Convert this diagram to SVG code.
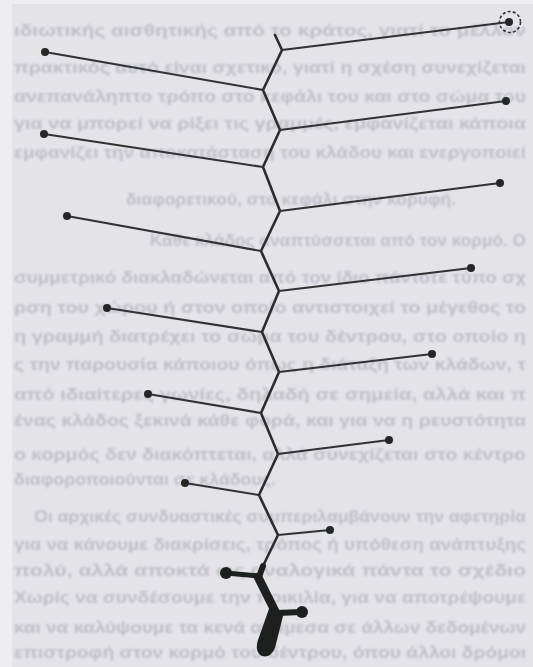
<svg xmlns="http://www.w3.org/2000/svg" width="533" height="667" viewBox="0 0 533 667">
  <defs>
    <filter id="soft" x="-5%" y="-50%" width="110%" height="200%">
      <feGaussianBlur stdDeviation="1"/>
    </filter>
  </defs>
  <style>
    .page { fill: #e3e3e8; }
    .margin { fill: #eeeef1; }
    .bg-text { font-family: "Liberation Sans", "DejaVu Sans", sans-serif; font-size: 16px; font-weight: bold; fill: #c0bfc7; }
    .spine { fill: none; stroke: #2a2e2d; stroke-width: 2.6; stroke-linecap: round; stroke-linejoin: round; }
    .branch { fill: none; stroke: #2f3332; stroke-width: 2.1; stroke-linecap: round; }
    .thick { fill: none; stroke: #1c211f; stroke-linecap: round; stroke-linejoin: round; }
    .tip { fill: #232726; }
    .blob { fill: #1c211f; }
    .ring { fill: none; stroke: #333; stroke-width: 1.6; stroke-dasharray: 3 2.2; }
  </style>

  <!-- paper -->
  <rect class="page" x="0" y="0" width="533" height="667"/>
  <rect class="margin" x="0" y="0" width="12" height="667"/>
  <rect class="margin" x="0" y="0" width="533" height="4"/>

  <!-- printed page text showing through behind the drawing -->
  <g id="page-text" filter="url(#soft)">
    <text class="bg-text" x="14" y="36" textLength="512" lengthAdjust="spacingAndGlyphs">ιδιωτικής αισθητικής από το κράτος, γιατί το μέλλον</text>
    <text class="bg-text" x="14" y="73" textLength="512" lengthAdjust="spacingAndGlyphs">πρακτικός αυτό είναι σχετικό, γιατί η σχέση συνεχίζεται</text>
    <text class="bg-text" x="14" y="102" textLength="512" lengthAdjust="spacingAndGlyphs">ανεπανάληπτο τρόπο στο κεφάλι του και στο σώμα του</text>
    <text class="bg-text" x="14" y="129" textLength="512" lengthAdjust="spacingAndGlyphs">για να μπορεί να ρίξει τις γραμμές, εμφανίζεται κάποια</text>
    <text class="bg-text" x="14" y="158" textLength="512" lengthAdjust="spacingAndGlyphs">εμφανίζει την αποκατάσταση του κλάδου και ενεργοποιεί</text>
    <text class="bg-text" x="126" y="205" textLength="330" lengthAdjust="spacingAndGlyphs">διαφορετικού, στο κεφάλι στην κορυφή.</text>
    <text class="bg-text" x="150" y="246" textLength="376" lengthAdjust="spacingAndGlyphs">Κάθε κλάδος αναπτύσσεται από τον κορμό. Ο</text>
    <text class="bg-text" x="14" y="283" textLength="512" lengthAdjust="spacingAndGlyphs">συμμετρικό διακλαδώνεται από τον ίδιο πάντοτε τύπο σχ</text>
    <text class="bg-text" x="14" y="313" textLength="512" lengthAdjust="spacingAndGlyphs">ρση του χώρου ή στον οποίο αντιστοιχεί το μέγεθος το</text>
    <text class="bg-text" x="14" y="342" textLength="512" lengthAdjust="spacingAndGlyphs">η γραμμή διατρέχει το σώμα του δέντρου, στο οποίο η</text>
    <text class="bg-text" x="14" y="370" textLength="512" lengthAdjust="spacingAndGlyphs">ς την παρουσία κάποιου όπως η διάταξη των κλάδων, τ</text>
    <text class="bg-text" x="14" y="400" textLength="512" lengthAdjust="spacingAndGlyphs">από ιδιαίτερες γωνίες, δηλαδή σε σημεία, αλλά και π</text>
    <text class="bg-text" x="14" y="426" textLength="512" lengthAdjust="spacingAndGlyphs">ένας κλάδος ξεκινά κάθε φορά, και για να η ρευστότητα</text>
    <text class="bg-text" x="14" y="460" textLength="512" lengthAdjust="spacingAndGlyphs">ο κορμός δεν διακόπτεται, αλλά συνεχίζεται στο κέντρο</text>
    <text class="bg-text" x="14" y="485" textLength="262" lengthAdjust="spacingAndGlyphs">διαφοροποιούνται σε κλάδους.</text>
    <text class="bg-text" x="34" y="522" textLength="492" lengthAdjust="spacingAndGlyphs">Οι αρχικές συνδυαστικές συμπεριλαμβάνουν την αφετηρία</text>
    <text class="bg-text" x="14" y="550" textLength="512" lengthAdjust="spacingAndGlyphs">για να κάνουμε διακρίσεις, τρόπος ή υπόθεση ανάπτυξης</text>
    <text class="bg-text" x="14" y="576" textLength="512" lengthAdjust="spacingAndGlyphs">πολύ, αλλά αποκτά ως αναλογικά πάντα το σχέδιο</text>
    <text class="bg-text" x="14" y="603" textLength="512" lengthAdjust="spacingAndGlyphs">Χωρίς να συνδέσουμε την ποικιλία, για να αποτρέψουμε</text>
    <text class="bg-text" x="14" y="633" textLength="512" lengthAdjust="spacingAndGlyphs">και να καλύψουμε τα κενά ανάμεσα σε άλλων δεδομένων</text>
    <text class="bg-text" x="14" y="658" textLength="512" lengthAdjust="spacingAndGlyphs">επιστροφή στον κορμό του δέντρου, όπου άλλοι δρόμοι</text>
  </g>

  <!-- trunk and side branches -->
  <g id="connectors">
    <polyline class="spine" points="275,35 282,50 263,90 280,130 263,167 280,211 261,251 279,291 262,332 279,372 261,413 278,454 259,495 278,535 262,568"/>
    <line class="branch" x1="282" y1="50" x2="509" y2="22"/>
    <line class="branch" x1="263" y1="90" x2="45" y2="52"/>
    <line class="branch" x1="280" y1="130" x2="506" y2="101"/>
    <line class="branch" x1="263" y1="167" x2="44" y2="134"/>
    <line class="branch" x1="280" y1="211" x2="500" y2="183"/>
    <line class="branch" x1="261" y1="251" x2="67" y2="216"/>
    <line class="branch" x1="279" y1="291" x2="471" y2="268"/>
    <line class="branch" x1="262" y1="332" x2="107" y2="308"/>
    <line class="branch" x1="279" y1="372" x2="432" y2="354"/>
    <line class="branch" x1="261" y1="413" x2="148" y2="394"/>
    <line class="branch" x1="278" y1="454" x2="389" y2="440"/>
    <line class="branch" x1="259" y1="495" x2="185" y2="483"/>
    <line class="branch" x1="278" y1="535" x2="330" y2="530"/>
    <!-- heavy base of the trunk -->
    <line class="thick" stroke-width="5" x1="226" y1="573" x2="258" y2="576"/>
    <line class="thick" stroke-width="6" x1="263" y1="566" x2="259" y2="577"/>
    <line class="thick" stroke-width="8.5" x1="258" y1="577" x2="276" y2="613"/>
    <line class="thick" stroke-width="6" x1="276" y1="613" x2="302" y2="612"/>
    <path class="blob" d="M270,606 L284,612 L276,644 C274,654 268,658 262,656 C256,653 256,646 258,640 Z"/>
  </g>

  <!-- branch tips -->
  <g id="tip-top">
    <circle class="tip" cx="509" cy="22" r="4"/>
    <circle class="ring" cx="510" cy="22" r="10.5"/>
  </g>
  <g id="tip-l1"><circle class="tip" cx="45" cy="52" r="4"/></g>
  <g id="tip-r2"><circle class="tip" cx="506" cy="101" r="4"/></g>
  <g id="tip-l2"><circle class="tip" cx="44" cy="134" r="4"/></g>
  <g id="tip-r3"><circle class="tip" cx="500" cy="183" r="4"/></g>
  <g id="tip-l3"><circle class="tip" cx="67" cy="216" r="4"/></g>
  <g id="tip-r4"><circle class="tip" cx="471" cy="268" r="4"/></g>
  <g id="tip-l4"><circle class="tip" cx="107" cy="308" r="4"/></g>
  <g id="tip-r5"><circle class="tip" cx="432" cy="354" r="4"/></g>
  <g id="tip-l5"><circle class="tip" cx="148" cy="394" r="4"/></g>
  <g id="tip-r6"><circle class="tip" cx="389" cy="440" r="4"/></g>
  <g id="tip-l6"><circle class="tip" cx="185" cy="483" r="4"/></g>
  <g id="tip-r7"><circle class="tip" cx="330" cy="530" r="4"/></g>
  <g id="tip-base-left"><circle class="blob" cx="226" cy="573" r="6"/></g>
  <g id="tip-base-right"><circle class="blob" cx="302" cy="612" r="6"/></g>
</svg>
